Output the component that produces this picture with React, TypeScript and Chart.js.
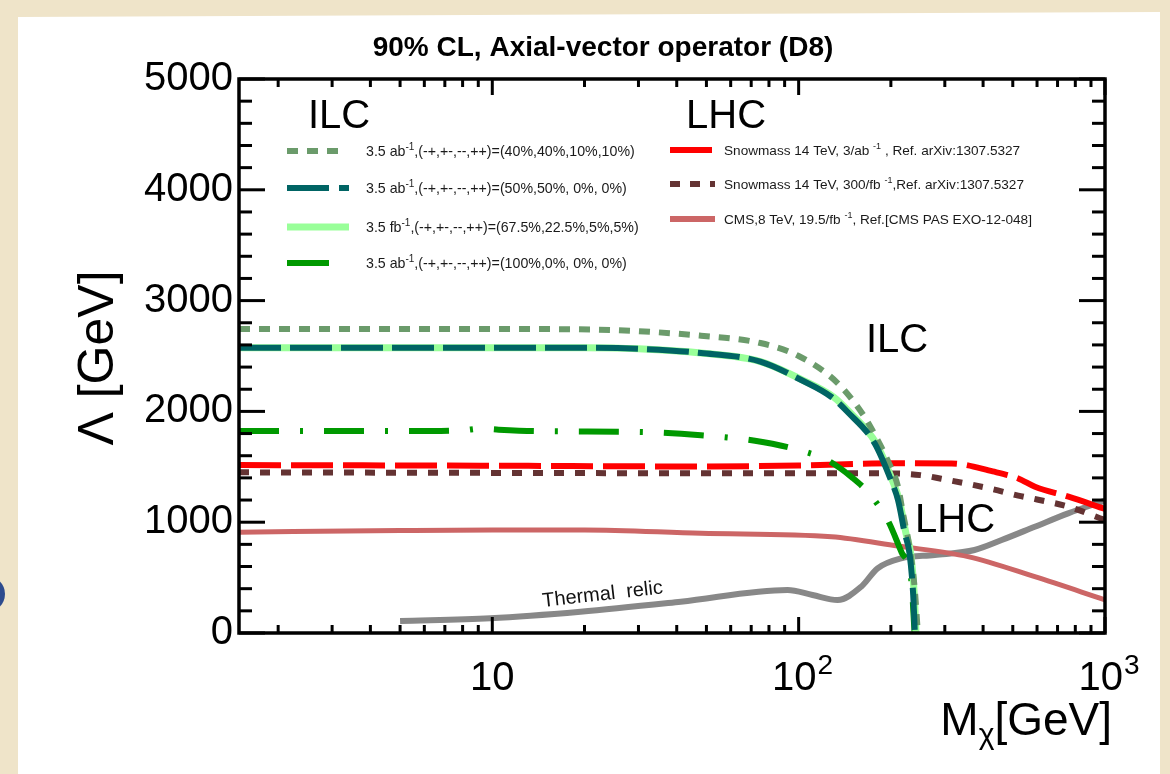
import React, { useEffect, useRef } from "react";
import { Chart, registerables } from "chart.js";

Chart.register(...registerables);

const FONT = '"Liberation Sans", Arial, Helvetica, sans-serif';

// ---------- data (mass in GeV, Lambda in GeV) ----------
const ilc4040Mass = [1.49, 5, 10, 22, 48, 75, 100, 134, 164, 181, 195, 211, 219, 230, 239, 245];
const ilc4040Lambda = [2744, 2744, 2744, 2738, 2683, 2617, 2500, 2256, 1952, 1742, 1561, 1320, 1080, 778, 415, 0];

const ilc5050Mass = [1.49, 5, 10, 20, 30, 48, 75, 102, 128, 145, 177, 200, 211, 222, 230, 236.6, 239.5];
const ilc5050Lambda = [2575, 2575, 2575, 2575, 2565, 2527, 2450, 2283, 2130, 1990, 1712, 1381, 1200, 900, 720, 340, 0];

const ilc675Mass = [1.49, 5, 10, 20, 30, 48, 75, 103, 130, 147, 179, 202, 213, 224, 232, 238.5, 241.5];
const ilc675Lambda = [2575, 2575, 2575, 2575, 2565, 2527, 2450, 2283, 2130, 1990, 1712, 1381, 1200, 900, 720, 340, 0];

const ilc100Mass = [1.49, 5, 8, 9.2, 10.5, 14, 30, 48, 72, 102, 125, 150, 169, 196, 217, 233, 239];
const ilc100Lambda = [1822, 1822, 1830, 1845, 1835, 1822, 1815, 1785, 1735, 1645, 1555, 1400, 1265, 1010, 725, 485, 0];

const lhc3abMass = [1.49, 5, 10, 48, 100, 206, 316, 430, 521, 591, 760, 1000];
const lhc3abLambda = [1516, 1512, 1510, 1503, 1512, 1532, 1530, 1458, 1395, 1320, 1230, 1120];

const lhc300fbMass = [1.49, 10, 48, 100, 206, 250, 292, 427, 521, 600, 760, 1000];
const lhc300fbLambda = [1450, 1445, 1442, 1442, 1440, 1425, 1392, 1300, 1240, 1205, 1140, 1020];

const cms8Mass = [1.49, 5, 10, 20, 48, 128, 211, 357, 590, 1000];
const cms8Lambda = [910, 925, 930, 930, 900, 869, 785, 689, 508, 300];

const relicMass = [5, 9.85, 19.4, 41.2, 92, 111, 134, 160, 181, 216, 278, 375, 460, 590, 758, 1000];
const relicLambda = [108, 133, 192, 282, 388, 343, 298, 418, 584, 674, 704, 749, 839, 959, 1080, 1195];

// ---------- axis ----------
const X_MIN = 1.49;
const X_MAX = 1000;
const Y_MIN = 0;
const Y_MAX = 5000;
const yMajorStep = 1000;
const yMinorStep = 200;
const xMajorValues = [10, 100, 1000];
const xMajorBase = ["10", "10", "10"];
const xMajorExp = ["", "2", "3"];

const TITLE = "90% CL, Axial-vector operator (D8)";

const pts = (m: number[], l: number[]) => m.map((v, i) => ({ x: v, y: l[i] }));

type Part = [string, boolean];

const leftLegend: { color: string; width: number; dash: number[]; len: number; parts: Part[] }[] = [
  { color: "#6b9b6b", width: 6, dash: [11, 9], len: 56, parts: [["3.5 ab", false], ["-1", true], [",(-+,+-,--,++)=(40%,40%,10%,10%)", false]] },
  { color: "#006464", width: 6, dash: [42, 10, 10, 10], len: 62, parts: [["3.5 ab", false], ["-1", true], [",(-+,+-,--,++)=(50%,50%, 0%, 0%)", false]] },
  { color: "#99ff99", width: 7, dash: [], len: 62, parts: [["3.5 fb", false], ["-1", true], [",(-+,+-,--,++)=(67.5%,22.5%,5%,5%)", false]] },
  { color: "#009900", width: 6, dash: [], len: 42, parts: [["3.5 ab", false], ["-1", true], [",(-+,+-,--,++)=(100%,0%, 0%, 0%)", false]] },
];
const rightLegend: { color: string; width: number; dash: number[]; len: number; parts: Part[] }[] = [
  { color: "#ff0000", width: 6, dash: [], len: 42, parts: [["Snowmass 14 TeV, 3/ab ", false], ["-1", true], [" , Ref. arXiv:1307.5327", false]] },
  { color: "#643333", width: 6, dash: [10, 10], len: 45, parts: [["Snowmass 14 TeV, 300/fb ", false], ["-1", true], [",Ref. arXiv:1307.5327", false]] },
  { color: "#cc6666", width: 6, dash: [], len: 45, parts: [["CMS,8 TeV, 19.5/fb ", false], ["-1", true], [", Ref.[CMS PAS EXO-12-048]", false]] },
];

function drawParts(ctx: CanvasRenderingContext2D, x: number, y: number, parts: Part[], size: number) {
  let cx = x;
  for (const [t, sup] of parts) {
    if (sup) {
      ctx.font = `${Math.round(size * 0.68)}px ${FONT}`;
      ctx.fillText(t, cx, y - size * 0.42);
    } else {
      ctx.font = `${size}px ${FONT}`;
      ctx.fillText(t, cx, y);
    }
    cx += ctx.measureText(t).width;
  }
}

const decor = {
  id: "decor",
  beforeDraw(chart: any) {
    const ctx: CanvasRenderingContext2D = chart.ctx;
    ctx.save();
    ctx.fillStyle = "#efe4c9";
    ctx.fillRect(0, 0, chart.width, chart.height);
    ctx.fillStyle = "#ffffff";
    ctx.beginPath();
    ctx.moveTo(18, 17);
    ctx.lineTo(1160, 12);
    ctx.lineTo(1160, 774);
    ctx.lineTo(18, 774);
    ctx.closePath();
    ctx.fill();
    ctx.fillStyle = "#2d4b8e";
    ctx.beginPath();
    ctx.arc(-13, 594, 18, 0, Math.PI * 2);
    ctx.fill();
    ctx.restore();
  },
  afterDraw(chart: any) {
    const ctx: CanvasRenderingContext2D = chart.ctx;
    const { left, right, top, bottom } = chart.chartArea;
    const xs = chart.scales.x;
    const ys = chart.scales.y;
    ctx.save();
    ctx.strokeStyle = "#000";
    ctx.lineWidth = 3;
    ctx.lineCap = "butt";
    const line = (x1: number, y1: number, x2: number, y2: number) => {
      ctx.beginPath();
      ctx.moveTo(x1, y1);
      ctx.lineTo(x2, y2);
      ctx.stroke();
    };
    // y ticks
    for (let v = Y_MIN; v <= Y_MAX; v += yMinorStep) {
      const y = ys.getPixelForValue(v);
      const len = v % yMajorStep === 0 ? 26 : 13;
      line(left, y, left + len, y);
      line(right, y, right - len, y);
    }
    // x ticks
    for (let dec = 1; dec <= 1000; dec *= 10) {
      for (let k = 1; k <= 9; k++) {
        const v = dec * k;
        if (v < X_MIN || v > X_MAX) continue;
        const x = xs.getPixelForValue(v);
        const len = k === 1 ? 16 : 8;
        line(x, bottom, x, bottom - len);
        line(x, top, x, top + len);
      }
    }
    // frame
    ctx.lineWidth = 3.5;
    ctx.strokeRect(left, top, right - left, bottom - top);

    ctx.fillStyle = "#000";
    ctx.textBaseline = "alphabetic";
    // x tick labels (whole label centred on the tick)
    for (let i = 0; i < xMajorValues.length; i++) {
      const x = xs.getPixelForValue(xMajorValues[i]);
      ctx.font = `40px ${FONT}`;
      const wb = ctx.measureText(xMajorBase[i]).width;
      ctx.font = `28px ${FONT}`;
      const we = xMajorExp[i] ? ctx.measureText(xMajorExp[i]).width + 1 : 0;
      const sx = x - (wb + we) / 2 + (we ? 4 : 0);
      ctx.textAlign = "left";
      ctx.font = `40px ${FONT}`;
      ctx.fillText(xMajorBase[i], sx, 690);
      if (xMajorExp[i]) {
        ctx.font = `28px ${FONT}`;
        ctx.fillText(xMajorExp[i], sx + wb + 1, 674);
      }
    }
    // axis titles
    ctx.textAlign = "left";
    ctx.font = `46px ${FONT}`;
    const wM = ctx.measureText("M").width;
    const wG = ctx.measureText("[GeV]").width;
    ctx.font = `30px ${FONT}`;
    const wC = ctx.measureText("χ").width;
    const ax = 1112 - (wM + wC + wG);
    ctx.font = `46px ${FONT}`;
    ctx.fillText("M", ax, 735);
    ctx.font = `30px ${FONT}`;
    ctx.fillText("χ", ax + wM, 744);
    ctx.font = `46px ${FONT}`;
    ctx.fillText("[GeV]", ax + wM + wC, 735);

    ctx.save();
    ctx.translate(113, 358);
    ctx.rotate(-Math.PI / 2);
    ctx.textAlign = "center";
    ctx.font = `50px ${FONT}`;
    ctx.fillText("Λ [GeV]", 0, 0);
    ctx.restore();

    // title
    ctx.textAlign = "center";
    ctx.font = `bold 28px ${FONT}`;
    ctx.fillText(TITLE, 603, 56);

    // in-plot labels
    ctx.textAlign = "left";
    ctx.font = `40px ${FONT}`;
    ctx.fillText("ILC", 308, 128);
    ctx.fillText("LHC", 686, 128);
    ctx.fillText("ILC", 866, 352);
    ctx.fillText("LHC", 915, 532);

    ctx.save();
    ctx.translate(543, 607);
    ctx.rotate((-6.5 * Math.PI) / 180);
    ctx.font = `20px ${FONT}`;
    ctx.fillStyle = "#111";
    ctx.fillText("Thermal  relic", 0, 0);
    ctx.restore();

    // legends
    const leftY = [151, 188, 227, 263];
    leftLegend.forEach((e, i) => {
      ctx.save();
      ctx.strokeStyle = e.color;
      ctx.lineWidth = e.width;
      ctx.setLineDash(e.dash);
      line(287, leftY[i], 287 + e.len, leftY[i]);
      ctx.restore();
      ctx.fillStyle = "#1a1a1a";
      drawParts(ctx, 366, leftY[i] + 5, e.parts, 14.2);
    });
    const rightY = [150, 184, 219];
    rightLegend.forEach((e, i) => {
      ctx.save();
      ctx.strokeStyle = e.color;
      ctx.lineWidth = e.width;
      ctx.setLineDash(e.dash);
      line(670, rightY[i], 670 + e.len, rightY[i]);
      ctx.restore();
      ctx.fillStyle = "#1a1a1a";
      drawParts(ctx, 724, rightY[i] + 5, e.parts, 13.6);
    });
    ctx.restore();
  },
};

export default function App() {
  const ref = useRef<HTMLCanvasElement | null>(null);
  useEffect(() => {
    if (!ref.current) return;
    const common = { pointRadius: 0, fill: false, showLine: true, cubicInterpolationMode: "monotone" as const, borderCapStyle: "butt" as const };
    const chart = new Chart(ref.current, {
      type: "scatter",
      data: {
        datasets: [
          { ...common, label: "ILC 50/50", data: pts(ilc5050Mass, ilc5050Lambda), borderColor: "#006464", borderWidth: 6, borderDash: [42, 9] },
          { ...common, label: "ILC 40/40", data: pts(ilc4040Mass, ilc4040Lambda), borderColor: "#6b9b6b", borderWidth: 6, borderDash: [11, 9] },
          { ...common, label: "ILC 67.5", data: pts(ilc675Mass, ilc675Lambda), borderColor: "#99ff99", borderWidth: 7 },
          { ...common, label: "ILC 100", data: pts(ilc100Mass, ilc100Lambda), borderColor: "#009900", borderWidth: 6, borderDash: [40, 21, 3, 21] },
          { ...common, label: "LHC 3ab", data: pts(lhc3abMass, lhc3abLambda), borderColor: "#ff0000", borderWidth: 6, borderDash: [42, 10] },
          { ...common, label: "LHC 300fb", data: pts(lhc300fbMass, lhc300fbLambda), borderColor: "#643333", borderWidth: 6, borderDash: [10, 11] },
          { ...common, label: "CMS 8", data: pts(cms8Mass, cms8Lambda), borderColor: "#cc6666", borderWidth: 5 },
          { ...common, label: "Thermal relic", data: pts(relicMass, relicLambda), borderColor: "#888888", borderWidth: 6 },
        ],
      },
      options: {
        animation: false,
        responsive: false,
        devicePixelRatio: 1,
        layout: { padding: { left: 0, top: 79, right: 65, bottom: 0 } },
        plugins: { legend: { display: false }, tooltip: { enabled: false }, title: { display: false } },
        scales: {
          x: {
            type: "logarithmic",
            min: X_MIN,
            max: X_MAX,
            grid: { display: false, drawTicks: false },
            border: { display: false },
            ticks: { display: false },
            afterFit: (s: any) => { s.height = 141; },
          },
          y: {
            type: "linear",
            min: Y_MIN,
            max: Y_MAX,
            grid: { display: false, drawTicks: false },
            border: { display: false },
            ticks: {
              stepSize: yMajorStep,
              color: "#000",
              padding: 6,
              font: { family: FONT, size: 40 },
              callback: (v: any) => String(v),
            },
            afterFit: (s: any) => { s.width = 239; },
          },
        },
      },
      plugins: [decor],
    } as any);
    return () => chart.destroy();
  }, []);
  return (
    <canvas
      ref={ref}
      width={1170}
      height={774}
      style={{ position: "fixed", left: 0, top: 0, width: 1170, height: 774 }}
    />
  );
}
